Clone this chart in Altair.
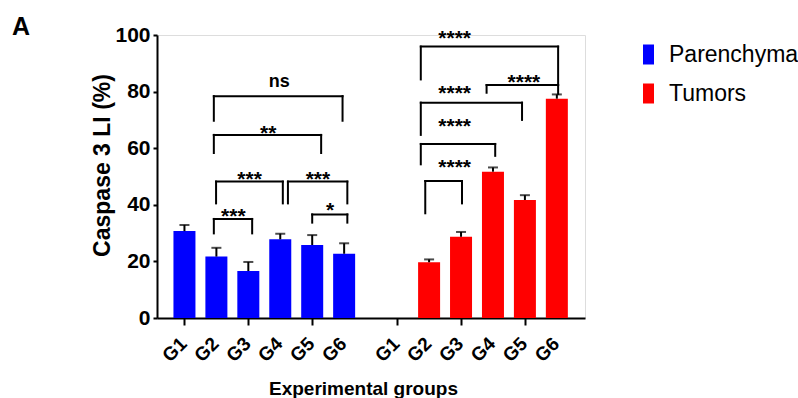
import altair as alt
import pandas as pd

# ---------------- data ----------------
groups = ["G1", "G2", "G3", "G4", "G5", "G6"]
tissues = ["Parenchyma", "Tumors"]
parenchyma_mean = [30.7, 21.7, 16.6, 27.8, 25.8, 22.7]
parenchyma_sem = [2.2, 3.1, 3.2, 2.0, 3.5, 3.7]
tumor_mean = [None, 19.7, 28.7, 51.7, 41.7, 77.5]
tumor_sem = [None, 1.0, 1.7, 1.5, 1.7, 1.5]
tissue_start = [0.0, 6.66]          # x slot of each tissue's G1

# significance brackets (x in slot units, y in %)
br_label = ["ns", "**", "***", "***", "***", "*", "****", "****", "****", "****", "****"]
br_x1 = [0.92, 0.92, 0.99, 3.24, 0.92, 4.00, 7.40, 9.46, 7.40, 7.40, 7.54]
br_x2 = [4.95, 4.28, 3.08, 5.10, 2.12, 5.10, 11.70, 11.70, 10.57, 9.73, 8.69]
br_top = [78.4, 64.7, 48.2, 48.2, 35.0, 36.6, 95.9, 82.3, 76.1, 61.5, 48.4]
br_left = [69.7, 58.3, 40.5, 40.5, 29.9, 33.7, 84.3, 79.6, 64.7, 54.3, 37.0]
br_right = [69.7, 58.3, 40.5, 40.5, 29.9, 33.7, 82.3, 79.2, 70.0, 57.3, 40.5]
br_lab_x = [2.97, 2.62, 2.04, 4.18, 1.53, 4.56, 8.46, 10.63, 8.46, 8.46, 8.46]
br_lab_y = [83.4, 67.6, 51.3, 51.3, 38.2, 40.2, 101.0, 85.5, 81.7, 70.0, 55.6]

panel_label = ["A"]
y_ticks = [0, 20, 40, 60, 80, 100]

# ---------------- tables ----------------
rows = []
for t, start, means, sems in zip(tissues, tissue_start,
                                 [parenchyma_mean, tumor_mean],
                                 [parenchyma_sem, tumor_sem]):
    for i, g in enumerate(groups):
        m = means[i]
        s = sems[i]
        rows.append({
            "tissue": t, "group": g, "pos": start + i,
            "mean": m, "upper": (m + s) if m is not None else None,
        })
bars = pd.DataFrame(rows)
bars_valid = bars.dropna()

brackets = pd.DataFrame({
    "label": br_label, "x1": br_x1, "x2": br_x2, "top": br_top,
    "left": br_left, "right": br_right, "lx": br_lab_x, "ly": br_lab_y,
})

FONT = "Liberation Sans"
W, H = 428, 283
x_values = [float(p) for p in bars["pos"]]

x_scale = alt.Scale(domain=[-0.703, 12.385], nice=False, zero=False)
y_scale = alt.Scale(domain=[0, 100], nice=False)

x_axis = alt.Axis(
    values=x_values, labels=False, grid=False,
    tickSize=7, tickWidth=2, tickColor="black",
    domainColor="black", domainWidth=2,
    title="Experimental groups", titleFont=FONT, titleFontSize=19,
    titleFontWeight="bold", titleColor="black",
    titleX=206, titleY=70, titleAlign="center", titleBaseline="middle",
)
y_axis = alt.Axis(
    values=y_ticks, grid=False,
    labelFont=FONT, labelFontSize=21, labelFontWeight="bold", labelColor="black",
    labelPadding=3, tickSize=4, tickWidth=2, tickColor="black",
    domainColor="black", domainWidth=2,
    title="Caspase 3 LI (%)", titleFont=FONT, titleFontSize=23,
    titleFontWeight="bold", titleColor="black",
    titleX=-55, titleY=130, titleAngle=-90, titleAlign="center",
    titleBaseline="middle",
)

bar_layer = alt.Chart(bars_valid).mark_bar(size=22).encode(
    x=alt.X("pos:Q", scale=x_scale, axis=x_axis),
    y=alt.Y("mean:Q", scale=y_scale, axis=y_axis),
    color=alt.Color(
        "tissue:N",
        scale=alt.Scale(domain=tissues, range=["#0000FF", "#FF0000"]),
        legend=alt.Legend(
            title=None, orient="none", legendX=480, legendY=8,
            symbolType="M-0.55,-1L0.55,-1L0.55,1L-0.55,1Z", symbolSize=400,
            symbolStrokeWidth=0, symbolOpacity=1,
            labelFont=FONT, labelFontSize=23, labelColor="black",
            labelOffset=9, rowPadding=15, padding=0,
        ),
    ),
)

err_stem = alt.Chart(bars_valid).mark_rule(color="black", strokeWidth=2).encode(
    x="pos:Q", y="mean:Q", y2="upper:Q",
)
err_cap = alt.Chart(bars_valid).mark_tick(
    color="black", orient="horizontal", size=10, thickness=2
).encode(x="pos:Q", y="upper:Q")

# rotated group labels under each tick (includes the empty tumour G1 slot)
x_labels = alt.Chart(bars).mark_text(
    font=FONT, fontSize=19, fontWeight="bold", color="black",
    angle=315, align="right", baseline="middle", dx=-1,
).encode(x="pos:Q", y=alt.value(H + 22), text="group:N")

bchart = alt.Chart(brackets)
b_h = bchart.mark_rule(color="black", strokeWidth=2, strokeCap="square").encode(
    x="x1:Q", x2="x2:Q", y="top:Q")
b_l = bchart.mark_rule(color="black", strokeWidth=2, strokeCap="square").encode(
    x="x1:Q", y="left:Q", y2="top:Q")
b_r = bchart.mark_rule(color="black", strokeWidth=2, strokeCap="square").encode(
    x="x2:Q", y="right:Q", y2="top:Q")

b_star = bchart.transform_filter("datum.label != 'ns'").mark_text(
    font=FONT, fontSize=21, fontWeight="bold", color="black", baseline="middle", dy=7,
).encode(x="lx:Q", y="ly:Q", text="label:N")
b_ns = bchart.transform_filter("datum.label == 'ns'").mark_text(
    font=FONT, fontSize=18, fontWeight="bold", color="black", baseline="middle",
).encode(x="lx:Q", y="ly:Q", text="label:N")

panel = alt.Chart(pd.DataFrame({"t": panel_label})).mark_text(
    font=FONT, fontSize=25, fontWeight="bold", color="black",
    align="center", baseline="alphabetic",
).encode(x=alt.value(-136), y=alt.value(0), text="t:N")

chart = alt.layer(
    bar_layer, err_stem, err_cap, x_labels, b_h, b_l, b_r, b_star, b_ns, panel
).properties(
    width=W, height=H, autosize="none",
    padding={"left": 157, "top": 35, "right": 213, "bottom": 80},
).configure_view(stroke=None).configure(background="white")

chart.save("out.html", embed_options={"renderer": "svg", "actions": False})
